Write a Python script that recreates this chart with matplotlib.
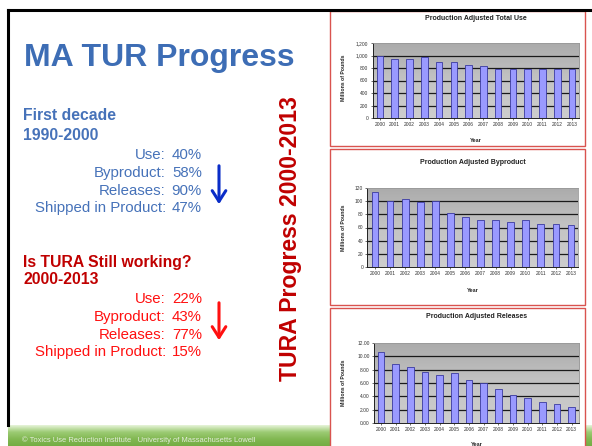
import numpy as np
import matplotlib
matplotlib.use("Agg")
import matplotlib.pyplot as plt
from matplotlib.patches import Rectangle, FancyArrowPatch
from matplotlib.colors import LinearSegmentedColormap

plt.rcParams['font.family'] = ['Liberation Sans', 'DejaVu Sans']

W, H = 592, 446

# reduction summary
measures = ['Use:', 'Byproduct:', 'Releases:', 'Shipped in Product:']
first_decade_pct = ['40%', '58%', '90%', '47%']
recent_pct = ['22%', '43%', '77%', '15%']

# production adjusted data, millions of pounds
years = ['2000', '2001', '2002', '2003', '2004', '2005', '2006',
         '2007', '2008', '2009', '2010', '2011', '2012', '2013']
total_use = [1000, 950, 950, 980, 900, 890, 850, 840, 790, 790, 780, 790, 780, 780]
byproduct = [114, 101, 103, 98, 101, 82, 76, 71, 71, 68, 71, 66, 66, 64]
releases = [10.6, 8.9, 8.35, 7.6, 7.25, 7.5, 6.5, 6.0, 5.1, 4.25, 3.75, 3.15, 2.85, 2.4]

use_ticks = [0, 200, 400, 600, 800, 1000, 1200]
use_ticklabels = ['0', '200', '400', '600', '800', '1,000', '1,200']
byp_ticks = [0, 20, 40, 60, 80, 100, 120]
byp_ticklabels = ['0', '20', '40', '60', '80', '100', '120']
rel_ticks = [0, 2, 4, 6, 8, 10, 12]
rel_ticklabels = ['0.00', '2.00', '4.00', '6.00', '8.00', '10.00', '12.00']


def fx(x):
    return x / W


def fy(y):
    return 1 - y / H


def rect(x0, y0, x1, y1):
    return [fx(x0), fy(y1), (x1 - x0) / W, (y1 - y0) / H]


fig = plt.figure(figsize=(W / 100, H / 100), dpi=100)
fig.patch.set_facecolor('white')

# green footer band
fax = fig.add_axes(rect(8, 425, W, H))
fax.set_zorder(-3)
green = LinearSegmentedColormap.from_list('g', ['#e6f3d8', '#9ccb74', '#82b852', '#74ad44'])
fax.imshow(np.linspace(0, 1, 60).reshape(-1, 1), cmap=green, aspect='auto',
           extent=[0, 1, 0, 1])
fax.axis('off')
fig.text(fx(22), fy(440), '\u00a9 Toxics Use Reduction Institute   University of Massachusetts Lowell',
         fontsize=5.4, color='#e4ecdc', va='center', ha='left')

# slide border
fig.add_artist(plt.Line2D([fx(8), fx(W)], [fy(10), fy(10)], color='black', lw=2.2,
                          transform=fig.transFigure))
fig.add_artist(plt.Line2D([fx(8), fx(8)], [fy(10), fy(425)], color='black', lw=2.2,
                          transform=fig.transFigure))

# left text block
fig.text(fx(24), fy(58), 'MA TUR Progress', fontsize=23, fontweight='bold',
         color='#3d6db5', va='center', ha='left')

blue = '#4672b9'
fig.text(fx(23), fy(116), 'First decade', fontsize=11.3, fontweight='bold', color=blue, va='center')
fig.text(fx(23), fy(136), '1990-2000', fontsize=11.3, fontweight='bold', color=blue, va='center')
for i, (m, p) in enumerate(zip(measures, first_decade_pct)):
    y = 155 + i * 17.8
    fig.text(fx(166), fy(y), m, fontsize=10.8, color=blue, ha='right', va='center')
    fig.text(fx(202), fy(y), p, fontsize=10.8, color=blue, ha='right', va='center')

darkred = '#c00000'
red = '#ff1010'
fig.text(fx(23), fy(262), 'Is TURA Still working?', fontsize=11.3, fontweight='bold',
         color=darkred, va='center')
fig.text(fx(23), fy(280), '2000-2013', fontsize=11.3, fontweight='bold', color=darkred, va='center')
for i, (m, p) in enumerate(zip(measures, recent_pct)):
    y = 299 + i * 17.8
    fig.text(fx(166), fy(y), m, fontsize=10.8, color=red, ha='right', va='center')
    fig.text(fx(202), fy(y), p, fontsize=10.8, color=red, ha='right', va='center')

for (y0, y1), c in [((163, 207), '#0a2dc8'), ((300, 343), red)]:
    fig.add_artist(FancyArrowPatch((fx(219), fy(y0)), (fx(219), fy(y1)),
                                   transform=fig.transFigure, color=c, lw=2.2,
                                   arrowstyle='->,head_width=0.35,head_length=0.55',
                                   mutation_scale=14))

fig.text(fx(290), fy(239), 'TURA Progress 2000-2013', fontsize=16.6, fontweight='bold',
         color=darkred, rotation=90, ha='center', va='center')

plot_bg = LinearSegmentedColormap.from_list('bg', ['#ababab', '#c4c4c4', '#cdcdcd'])


def bar_panel(box, area, title, title_y, values, ticks, ticklabels, ylab_y, year_y):
    bx0, by0, bx1, by1 = box
    fig.add_artist(Rectangle((fx(bx0), fy(by1)), (bx1 - bx0) / W, (by1 - by0) / H,
                             transform=fig.transFigure, facecolor='white',
                             edgecolor='#d9534f', lw=1.0, zorder=-1))
    ax = fig.add_axes(rect(*area))
    ax.imshow(np.linspace(0, 1, 60).reshape(-1, 1), cmap=plot_bg, aspect='auto',
              extent=[-0.5, len(values) - 0.5, ticks[0], ticks[-1]], zorder=0)
    for t in ticks[1:-1]:
        ax.axhline(t, color='#1a1a1a', lw=0.9, zorder=1)
    ax.bar(range(len(values)), values, width=0.45, color='#9a9aff',
           edgecolor='#3a3aa0', lw=0.6, zorder=2)
    ax.set_xlim(-0.5, len(values) - 0.5)
    ax.set_ylim(ticks[0], ticks[-1])
    ax.set_xticks(range(len(values)))
    ax.set_xticklabels(years, fontsize=3.5, color='#333333')
    ax.set_yticks(ticks)
    ax.set_yticklabels(ticklabels, fontsize=3.5, color='#333333')
    ax.tick_params(length=1.5, width=0.5, pad=1.5, colors='#333333')
    for s in ['top', 'right']:
        ax.spines[s].set_color('#999999')
        ax.spines[s].set_linewidth(0.6)
    for s in ['left', 'bottom']:
        ax.spines[s].set_color('#222222')
        ax.spines[s].set_linewidth(0.7)
    cx = (area[0] + area[2]) / 2
    fig.text(fx(cx), fy(title_y), title, fontsize=5, fontweight='bold', color='#222222',
             ha='center', va='center')
    fig.text(fx(344), fy(ylab_y), 'Millions of Pounds', fontsize=3.7, fontweight='bold',
             color='#222222', rotation=90, ha='center', va='center')
    fig.text(fx(cx), fy(year_y), 'Year', fontsize=4, fontweight='bold', color='#222222',
             ha='center', va='center')
    return ax


bar_panel((330, 11, 585, 146), (372.6, 43, 579.4, 118), 'Production Adjusted Total Use', 18,
          total_use, use_ticks, use_ticklabels, 78, 140)
bar_panel((330, 149, 585, 305), (367.5, 188, 578.5, 267), 'Production Adjusted Byproduct', 163,
          byproduct, byp_ticks, byp_ticklabels, 228, 291)
bar_panel((330, 308, 585, 450), (373.7, 343, 579, 423), 'Production Adjusted Releases', 316,
          releases, rel_ticks, rel_ticklabels, 383, 444)

fig.savefig('out.png', dpi=100)
